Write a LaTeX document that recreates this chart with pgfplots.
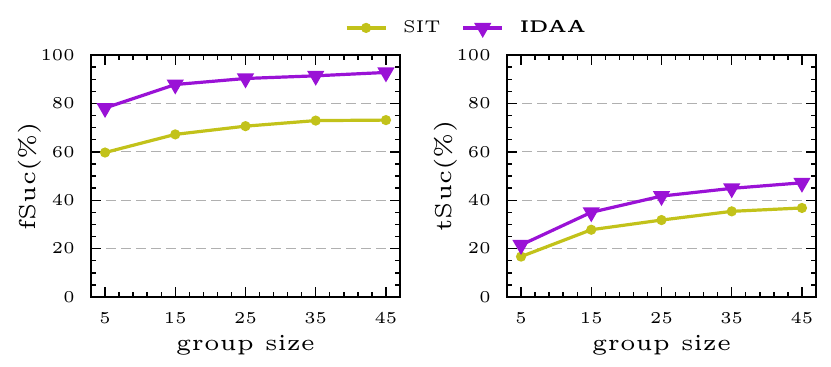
\documentclass[border=0pt]{standalone}
\usepackage{pgfplots}
\pgfplotsset{compat=1.18}

\definecolor{sitcol}{HTML}{C2C21A}
\definecolor{idaacol}{HTML}{9A12D6}
\definecolor{gridgray}{HTML}{B0B0B0}

% small optical size, scaled up, to get the wide look of the original
\newcommand{\sm}{\fontsize{5}{6}\selectfont}

\pgfplotsset{
  panel/.style={
    scale only axis,
    width=154.5pt, height=121pt,
    xmin=3, xmax=47, ymin=0, ymax=100,
    xtick={5,15,25,35,45},
    ytick={0,20,40,60,80,100},
    minor x tick num=4,
    minor y tick num=3,
    tick align=inside,
    xtick pos=both, ytick pos=both,
    major tick length=5pt,
    minor tick length=2.5pt,
    every tick/.style={black, line width=0.7pt},
    axis line style={line width=0.8pt},
    ymajorgrids=true,
    grid style={gridgray, dash pattern=on 5pt off 2.5pt, line width=0.6pt},
    /pgf/number format/assume math mode=true,
    tick label style={font=\sm},
    xticklabel={\scalebox{1.66}{\pgfmathprintnumber{\tick}}},
    yticklabel={\scalebox{1.66}{\pgfmathprintnumber{\tick}}},
    xticklabel style={anchor=center, yshift=-10.5pt},
    yticklabel style={anchor=east, inner sep=0pt, xshift=-8pt},
    label style={font=\sm},
    xlabel={\scalebox{2.3}{group size}},
    xlabel style={at={(axis description cs:0.5,-0.198)}, anchor=center},
    ylabel style={at={(axis description cs:-0.197,0.5)}, anchor=center},
  },
  sit/.style={sitcol, line width=1.6pt, mark=*, mark size=1.7pt, mark options={solid, fill=sitcol}},
  idaa/.style={idaacol, line width=1.6pt, mark=triangle*, mark size=3.4pt, mark options={solid, fill=idaacol, rotate=180}},
}

\begin{document}
\begin{tikzpicture}
\path (-45.5pt,-34.5pt) rectangle (370pt,148.5pt);

\begin{axis}[panel,
  ylabel={\scalebox{2.3}{fSuc(\%)}},
  legend style={at={(1.218,1.112)}, anchor=center, draw=none, fill=none,
    legend columns=2, font=\sm, inner sep=0pt,
    /tikz/every odd column/.append style={column sep=6pt},
    /tikz/every even column/.append style={column sep=8.5pt}},
  legend image code/.code={
    \draw[#1, mark repeat=2, mark phase=2] plot coordinates {(0pt,0pt) (9.75pt,0pt) (19.5pt,0pt)};
  },
]
\addplot[sit] coordinates {(5,59.7)(15,67.2)(25,70.6)(35,72.9)(45,73.1)};
\addlegendentry{\scalebox{1.7}{SIT}}
\addplot[idaa] coordinates {(5,78.1)(15,87.8)(25,90.3)(35,91.4)(45,92.8)};
\addlegendentry{\scalebox{1.7}{\textbf{IDAA}}}
\end{axis}

\begin{axis}[panel, xshift=208pt,
  ylabel={\scalebox{2.3}{tSuc(\%)}},
]
\addplot[sit] coordinates {(5,16.7)(15,27.8)(25,31.8)(35,35.4)(45,36.8)};
\addplot[idaa] coordinates {(5,21.5)(15,35.0)(25,41.7)(35,44.9)(45,47.2)};
\end{axis}
\end{tikzpicture}
\end{document}
